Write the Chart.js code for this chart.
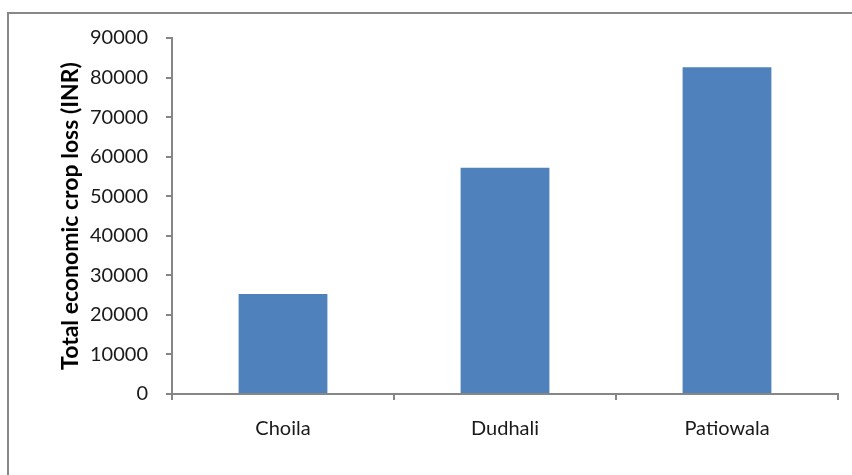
<!DOCTYPE html>
<html>
<head>
<meta charset="utf-8">
<script src="https://cdn.jsdelivr.net/npm/chart.js@4"></script>
<style>
  html, body { margin: 0; padding: 0; background: #fff; }
  #wrap { position: relative; width: 852px; height: 475px; overflow: hidden; }
  #frame { position: absolute; left: 7px; top: 12px; width: 900px; height: 520px; border: 2px solid #888; box-sizing: border-box; }
  canvas { position: absolute; left: 0; top: 0; }
</style>
</head>
<body>
<div id="wrap">
  <div id="frame"></div>
  <canvas id="chart" width="852" height="475"></canvas>
</div>
<script>
const villages = ['Choila', 'Dudhali', 'Patiowala'];
const cropLoss = [25300, 57200, 82600];
const yTicks = [0, 10000, 20000, 30000, 40000, 50000, 60000, 70000, 80000, 90000];

const axisGray = '#868686';
const fontName = 'Lato, "Open Sans", sans-serif';

new Chart('chart', {
  type: 'bar',
  data: {
    labels: villages,
    datasets: [{
      data: cropLoss,
      backgroundColor: '#4F81BD',
      borderWidth: 0,
      categoryPercentage: 1,
      barPercentage: 0.4
    }]
  },
  options: {
    responsive: false,
    animation: false,
    layout: { padding: { top: 38, right: 14, left: 0, bottom: 0 } },
    plugins: { legend: { display: false }, tooltip: { enabled: false } },
    scales: {
      x: {
        grid: { drawOnChartArea: false, drawTicks: true, tickLength: 6, color: axisGray, lineWidth: 2 },
        border: { color: axisGray, width: 2 },
        ticks: { color: '#1a1a1a', font: { family: fontName, size: 20 }, padding: 17 },
        afterFit: (s) => { s.height = 81; }
      },
      y: {
        min: 0,
        max: 90000,
        afterBuildTicks: (s) => { s.ticks = yTicks.map(v => ({ value: v })); },
        grid: { drawOnChartArea: false, drawTicks: true, tickLength: 6, color: axisGray, lineWidth: 2 },
        border: { color: axisGray, width: 2 },
        ticks: {
          color: '#1a1a1a',
          font: { family: fontName, size: 20 },
          padding: 18,
          callback: (v) => String(v)
        },
        title: {
          display: true,
          text: 'Total economic crop loss (INR)',
          color: '#000',
          font: { family: fontName, size: 23, weight: 'bold' },
          padding: { top: 57, bottom: 0 }
        },
        afterFit: (s) => { s.width = 172; }
      }
    }
  }
});
</script>
</body>
</html>
